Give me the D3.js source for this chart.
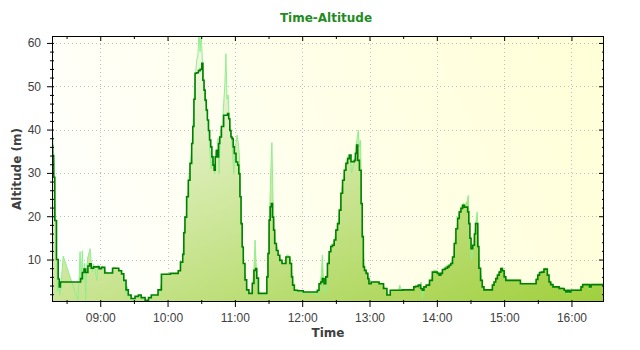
<!DOCTYPE html>
<html><head><meta charset="utf-8">
<script src="https://cdn.jsdelivr.net/npm/d3@7"></script>
<style>body{margin:0;background:#fff}svg{display:block}</style>
</head><body><svg id="c" width="640" height="350"></svg>
<script>
const chartTitle = "Time-Altitude";
const xAxisLabel = "Time";
const yAxisLabel = "Altitude (m)";
const yTickValues = [10, 20, 30, 40, 50, 60];
const yMinorTicks = [2,4,6,8,12,14,16,18,22,24,26,28,32,34,36,38,42,44,46,48,52,54,56,58];
const xTickLabels = ["09:00","10:00","11:00","12:00","13:00","14:00","15:00","16:00"];
const xMinorTicks = ["08:30","09:30","10:30","11:30","12:30","13:30","14:30","15:30"];
const timeDomain = ["08:17","16:29"];

// smoothed altitude (dark green)
const darkTime = ["08:17","08:18","08:19","08:20","08:22","08:23","08:24","08:25","08:42","08:43","08:45","08:46","08:48","08:50","08:51","08:53","08:55","08:58","09:00","09:02","09:06","09:10","09:12","09:15","09:18","09:20","09:22","09:24","09:26","09:29","09:33","09:35","09:38","09:42","09:44","09:47","09:50","09:53","09:56","10:09","10:10","10:13","10:14","10:15","10:16","10:18","10:19","10:21","10:22","10:23","10:24","10:25","10:27","10:28","10:30","10:31","10:32","10:33","10:34","10:35","10:36","10:37","10:38","10:39","10:40","10:41","10:42","10:43","10:44","10:45","10:46","10:47","10:49","10:51","10:53","10:54","10:55","10:56","10:57","10:58","10:59","11:00","11:02","11:03","11:04","11:05","11:06","11:07","11:08","11:10","11:11","11:14","11:15","11:16","11:18","11:19","11:20","11:22","11:28","11:29","11:30","11:31","11:32","11:33","11:34","11:35","11:36","11:38","11:39","11:41","11:43","11:45","11:46","11:48","11:50","11:51","11:52","11:54","11:58","12:04","12:13","12:14","12:16","12:17","12:19","12:20","12:22","12:23","12:25","12:26","12:28","12:29","12:31","12:32","12:34","12:35","12:37","12:38","12:40","12:41","12:43","12:44","12:46","12:47","12:48","12:49","12:50","12:52","12:53","12:54","12:55","12:56","12:58","12:59","13:00","13:03","13:06","13:11","13:14","13:17","13:20","13:39","13:40","13:42","13:45","13:46","13:48","13:49","13:52","13:55","13:57","14:00","14:01","14:03","14:04","14:06","14:09","14:10","14:12","14:13","14:15","14:16","14:18","14:19","14:21","14:22","14:24","14:25","14:27","14:28","14:29","14:30","14:31","14:33","14:34","14:35","14:36","14:37","14:38","14:40","14:41","14:43","14:49","14:50","14:52","14:53","14:55","14:56","14:58","14:59","15:01","15:02","15:14","15:15","15:28","15:29","15:31","15:32","15:35","15:36","15:38","15:39","15:41","15:42","15:45","15:53","15:54","15:56","15:57","15:59","16:00","16:08","16:09","16:11","16:15","16:17","16:18","16:29"];
const darkAlt = [36.3,34,29,19,10,5.5,3.7,4.8,4.8,5.6,7.0,7.8,7.0,8.5,9.0,8.0,8.3,8.3,7.9,8.2,6.9,6.9,8.0,8.0,7.4,6.7,5.2,3.0,1.8,1.0,1.5,1.8,1.2,0.6,1.2,1.8,1.8,3.0,6.6,6.8,7.4,9.4,11.2,16.2,19.8,24.5,28.3,32.2,36.8,40.7,47.0,53.0,53.1,53.6,53.9,55.3,51.4,49.1,46.8,44.5,42.2,39.8,37.6,36.0,33.7,31.8,30.6,33.7,35.2,33.7,36.8,38.3,40.7,43.3,43.3,43.7,42.5,39.8,38.3,37.9,36.0,34.5,32.5,31.8,29.8,24.5,18.3,12.9,9.1,5.3,3.0,2.2,2.2,4.5,7.5,7.9,5.7,2.2,2.2,6.0,11.4,19.1,22.2,22.9,19.8,16.8,13.7,12.1,11.0,9.8,9.1,9.1,10.6,10.6,9.1,6.0,4.1,2.9,2.8,2.5,2.5,2.9,4.4,4.8,5.6,4.4,6.0,9.1,11.8,13.0,13.3,14.5,16.8,18.3,21.4,25.3,28.3,30.6,32.2,33.3,34.1,32.6,32.6,32.9,34.5,36.4,32.9,30.6,22.9,15.3,8.3,7.5,6.8,5.6,4.4,4.8,4.8,4.4,3.3,1.8,2.9,3.0,3.7,3.8,4.1,3.3,2.9,3.7,4.1,5.2,7.1,7.1,6.8,6.4,6.8,7.7,8.0,8.3,8.7,9.1,10.6,13.7,17.1,19.5,21.0,21.8,22.5,22.1,22.1,21.0,18.3,14.9,12.5,13.3,15.9,18.3,18.3,13.0,8.0,5.2,3.7,3.0,3.0,4.1,4.8,5.6,6.4,7.1,7.9,7.4,6.0,5.2,5.2,4.4,4.4,5.4,6.4,7.0,7.1,7.8,7.8,6.4,4.8,4.2,3.7,3.3,2.9,2.5,2.9,2.5,2.9,2.9,3.7,4.2,4.2,3.7,4.2,4.2];

// raw altitude (light green)
const lightTime = ["08:17","08:18","08:19","08:20","08:21","08:22","08:23","08:24","08:25","08:27","08:40","08:41","08:42","08:43","08:44","08:45","08:46","08:47","08:48","08:49","08:51","08:52","08:53","08:54","08:55","08:57","08:58","09:00","09:02","09:06","09:10","09:12","09:15","09:18","09:20","09:22","09:23","09:24","09:25","09:27","09:29","09:33","09:35","09:38","09:42","09:44","09:47","09:50","09:53","09:56","10:09","10:10","10:13","10:14","10:15","10:16","10:18","10:19","10:21","10:22","10:23","10:24","10:25","10:26","10:27","10:28","10:29","10:30","10:31","10:32","10:33","10:34","10:35","10:36","10:37","10:38","10:39","10:40","10:41","10:42","10:43","10:44","10:45","10:46","10:47","10:49","10:50","10:51","10:52","10:53","10:54","10:55","10:56","10:57","10:58","10:59","11:00","11:01","11:02","11:03","11:04","11:05","11:06","11:07","11:08","11:10","11:11","11:14","11:15","11:16","11:17","11:18","11:19","11:20","11:22","11:28","11:29","11:30","11:31","11:32","11:33","11:34","11:35","11:36","11:38","11:39","11:41","11:43","11:45","11:46","11:48","11:50","11:51","11:52","11:54","11:58","12:04","12:12","12:13","12:15","12:16","12:17","12:18","12:19","12:20","12:21","12:22","12:23","12:25","12:26","12:28","12:29","12:31","12:32","12:34","12:35","12:37","12:38","12:40","12:41","12:43","12:44","12:46","12:47","12:48","12:49","12:50","12:51","12:52","12:53","12:54","12:55","12:56","12:58","12:59","13:00","13:03","13:06","13:11","13:14","13:17","13:20","13:26","13:27","13:28","13:39","13:40","13:42","13:45","13:46","13:47","13:48","13:49","13:52","13:55","13:57","14:00","14:01","14:03","14:04","14:06","14:09","14:10","14:12","14:13","14:15","14:16","14:18","14:19","14:21","14:22","14:24","14:25","14:27","14:28","14:29","14:30","14:31","14:33","14:34","14:35","14:36","14:37","14:38","14:40","14:41","14:43","14:49","14:50","14:52","14:53","14:55","14:56","14:58","14:59","15:01","15:02","15:14","15:15","15:28","15:29","15:31","15:32","15:35","15:36","15:38","15:39","15:41","15:42","15:45","15:53","15:54","15:56","15:57","15:58","15:59","16:00","16:08","16:09","16:11","16:15","16:16","16:17","16:18","16:29"];
const lightAlt = [42,37,30,20,9,2.5,5,1.8,4,10.8,0.6,4.8,11.8,5.5,12.0,5.2,9.1,0.6,8.3,10.6,12.5,9.0,7.2,9.0,8.0,5.2,8.8,7.9,8.5,6.9,6.9,8.2,8.0,7.4,6.5,4.0,2.2,3.8,1.2,2.0,0.5,1.2,1.9,0.8,0.3,1.0,1.6,1.6,2.5,6.6,6.8,7.0,9.0,12.0,17.5,18.0,25.0,29.0,34.0,38.0,43.0,50.0,53.0,56.0,57.0,62.5,58.0,62.5,56.0,53.0,47.0,46.0,45.0,41.0,38.0,34.0,31.0,34.0,32.5,29.8,35.0,34.0,38.0,29.8,39.0,41.5,46.0,50.0,57.5,47.0,48.0,42.0,40.5,38.0,34.5,29.8,35.0,37.0,38.7,37.0,34.0,25.0,18.0,12.5,8.5,5.0,2.5,2.0,2.0,5.0,8.0,14.5,8.5,4.5,2.0,2.0,7.0,13.0,21.0,30.0,37.0,24.0,18.0,14.5,12.5,11.0,10.0,9.0,9.5,11.0,11.0,9.5,6.5,4.0,2.6,2.4,2.3,2.3,1.8,1.8,4.0,6.5,11.0,5.0,2.4,2.2,6.0,9.5,12.5,13.5,13.8,15.0,17.2,18.8,22.0,26.0,29.0,31.0,33.0,34.0,33.5,30.0,32.0,34.0,36.0,38.0,39.9,36.0,37.5,23.0,16.0,9.5,7.5,7.0,5.8,4.6,4.9,4.9,4.5,3.4,1.5,2.9,3.0,4.1,3.0,3.0,3.7,3.8,4.1,4.8,1.0,2.9,3.7,4.1,5.5,7.5,7.5,6.8,6.4,7.0,7.9,8.7,8.7,8.7,9.3,11.0,14.0,17.5,20.0,21.5,22.5,23.0,22.5,23.5,24.8,17.0,12.0,9.9,14.0,16.5,19.0,21.0,14.0,8.5,5.5,4.0,3.0,3.0,4.2,5.0,5.8,6.5,7.3,8.2,7.6,6.2,5.3,5.3,4.5,4.5,5.6,6.6,7.2,7.3,8.0,8.0,6.6,5.0,4.3,3.8,3.4,2.9,2.1,3.0,2.1,2.6,3.0,3.0,3.8,4.3,4.3,3.0,3.8,4.3,4.3];

const parse = d3.timeParse("%H:%M");
const P = {l: 52, r: 604, t: 36, b: 302};
const svg = d3.select("#c");

const x = d3.scaleTime().domain(timeDomain.map(parse)).range([P.l, P.r]);
const y = d3.scaleLinear().domain([0.2, 61.6]).range([P.b, P.t]);

const defs = svg.append("defs");
const bg = defs.append("linearGradient").attr("id","bgGrad").attr("gradientUnits","userSpaceOnUse")
  .attr("x1",P.l).attr("y1",P.b).attr("x2",P.r).attr("y2",P.t);
bg.append("stop").attr("offset","0").attr("stop-color","#ffffff");
bg.append("stop").attr("offset","1").attr("stop-color","#ffffd6");
const ag = defs.append("linearGradient").attr("id","areaGrad").attr("gradientUnits","userSpaceOnUse")
  .attr("x1",52).attr("y1",36).attr("x2",219.4).attr("y2",474.1);
ag.append("stop").attr("offset","0").attr("stop-color","#ffffff");
ag.append("stop").attr("offset","1").attr("stop-color","#9acd32");
defs.append("clipPath").attr("id","clip").append("rect")
  .attr("x",P.l).attr("y",P.t).attr("width",P.r-P.l).attr("height",P.b-P.t);

// background
svg.append("rect").attr("x",P.l).attr("y",P.t).attr("width",P.r-P.l).attr("height",P.b-P.t).attr("fill","url(#bgGrad)");

// gridlines
const grid = svg.append("g").attr("stroke","#bdbdbd").attr("stroke-width",1).attr("stroke-dasharray","1,3");
grid.selectAll("line.gx").data(xTickLabels.map(parse)).join("line")
  .attr("x1",d=>Math.round(x(d))+0.5).attr("x2",d=>Math.round(x(d))+0.5).attr("y1",P.t).attr("y2",P.b);
grid.selectAll("line.gy").data(yTickValues).join("line").attr("class","gy")
  .attr("y1",d=>Math.round(y(d))+0.5).attr("y2",d=>Math.round(y(d))+0.5).attr("x1",P.l).attr("x2",P.r);

const dark = darkTime.map((t,i)=>({t:parse(t), v:darkAlt[i]}));
const light = lightTime.map((t,i)=>({t:parse(t), v:lightAlt[i]}));

const plot = svg.append("g").attr("clip-path","url(#clip)");
const area = d3.area().x(d=>x(d.t)).y0(P.b).y1(d=>y(d.v));
const areaStep = d3.area().curve(d3.curveStep).x(d=>x(d.t)).y0(P.b).y1(d=>y(d.v));
const line = d3.line().x(d=>x(d.t)).y(d=>y(d.v));
const lineStep = d3.line().curve(d3.curveStep).x(d=>x(d.t)).y(d=>y(d.v));
plot.append("path").datum(light).attr("d",area).attr("fill","url(#areaGrad)");
plot.append("path").datum(dark).attr("d",areaStep).attr("fill","url(#areaGrad)");
plot.append("path").datum(light).attr("d",line).attr("fill","none").attr("stroke","#90ee90").attr("stroke-width",1);
plot.append("path").datum(dark).attr("d",lineStep).attr("fill","none").attr("stroke","#008000").attr("stroke-width",1.6);

// axes
const tickFont = "'Liberation Sans', Arial, sans-serif";
function styleAxis(g){
  g.select(".domain").remove();
  g.selectAll("line").attr("stroke","#000");
  g.selectAll("text").attr("font-family",tickFont).attr("font-size","12px").attr("fill","#404040");
}
// bottom
const xb = svg.append("g").attr("transform",`translate(0,${P.b})`)
  .call(d3.axisBottom(x).tickValues(xTickLabels.map(parse)).tickFormat(d3.timeFormat("%H:%M")).tickSize(5).tickPadding(6));
styleAxis(xb); xb.selectAll(".tick line").attr("y1",-2);
const xbm = svg.append("g").attr("transform",`translate(0,${P.b})`)
  .call(d3.axisBottom(x).tickValues(xMinorTicks.map(parse)).tickFormat("").tickSize(2));
styleAxis(xbm); xbm.selectAll(".tick line").attr("y1",-2);
// top (mirror, inward)
const xt = svg.append("g").attr("transform",`translate(0,${P.t})`)
  .call(d3.axisBottom(x).tickValues(xTickLabels.map(parse)).tickFormat("").tickSize(5));
styleAxis(xt);
const xtm = svg.append("g").attr("transform",`translate(0,${P.t})`)
  .call(d3.axisBottom(x).tickValues(xMinorTicks.map(parse)).tickFormat("").tickSize(3));
styleAxis(xtm);
// left
const yl = svg.append("g").attr("transform",`translate(${P.l},0)`)
  .call(d3.axisLeft(y).tickValues(yTickValues).tickSize(5).tickPadding(6));
styleAxis(yl); yl.selectAll(".tick line").attr("x1",2);
const ylm = svg.append("g").attr("transform",`translate(${P.l},0)`)
  .call(d3.axisLeft(y).tickValues(yMinorTicks).tickFormat("").tickSize(2));
styleAxis(ylm); ylm.selectAll(".tick line").attr("x1",2);
// right (mirror, inward)
const yr = svg.append("g").attr("transform",`translate(${P.r},0)`)
  .call(d3.axisRight(y).tickValues(yTickValues).tickFormat("").tickSize(-5));
styleAxis(yr);
const yrm = svg.append("g").attr("transform",`translate(${P.r},0)`)
  .call(d3.axisRight(y).tickValues(yMinorTicks).tickFormat("").tickSize(-2));
styleAxis(yrm);

// frame
svg.append("rect").attr("x",P.l+0.5).attr("y",P.t+0.5).attr("width",P.r-P.l-1).attr("height",P.b-P.t-1)
  .attr("fill","none").attr("stroke","#000").attr("stroke-width",1);

// labels
const boldFont = "'DejaVu Sans', Verdana, sans-serif";
svg.append("text").attr("x",326).attr("y",22).attr("text-anchor","middle")
  .attr("font-family",boldFont).attr("font-weight","bold").attr("font-size","12px").attr("fill","#228b22").text(chartTitle);
svg.append("text").attr("x",(P.l+P.r)/2).attr("y",337).attr("text-anchor","middle")
  .attr("font-family",boldFont).attr("font-weight","bold").attr("font-size","12px").attr("fill","#404040").text(xAxisLabel);
svg.append("text").attr("transform",`translate(21,${(P.t+P.b)/2}) rotate(-90)`).attr("text-anchor","middle")
  .attr("font-family",boldFont).attr("font-weight","bold").attr("font-size","12px").attr("fill","#404040").text(yAxisLabel);
</script></body></html>
